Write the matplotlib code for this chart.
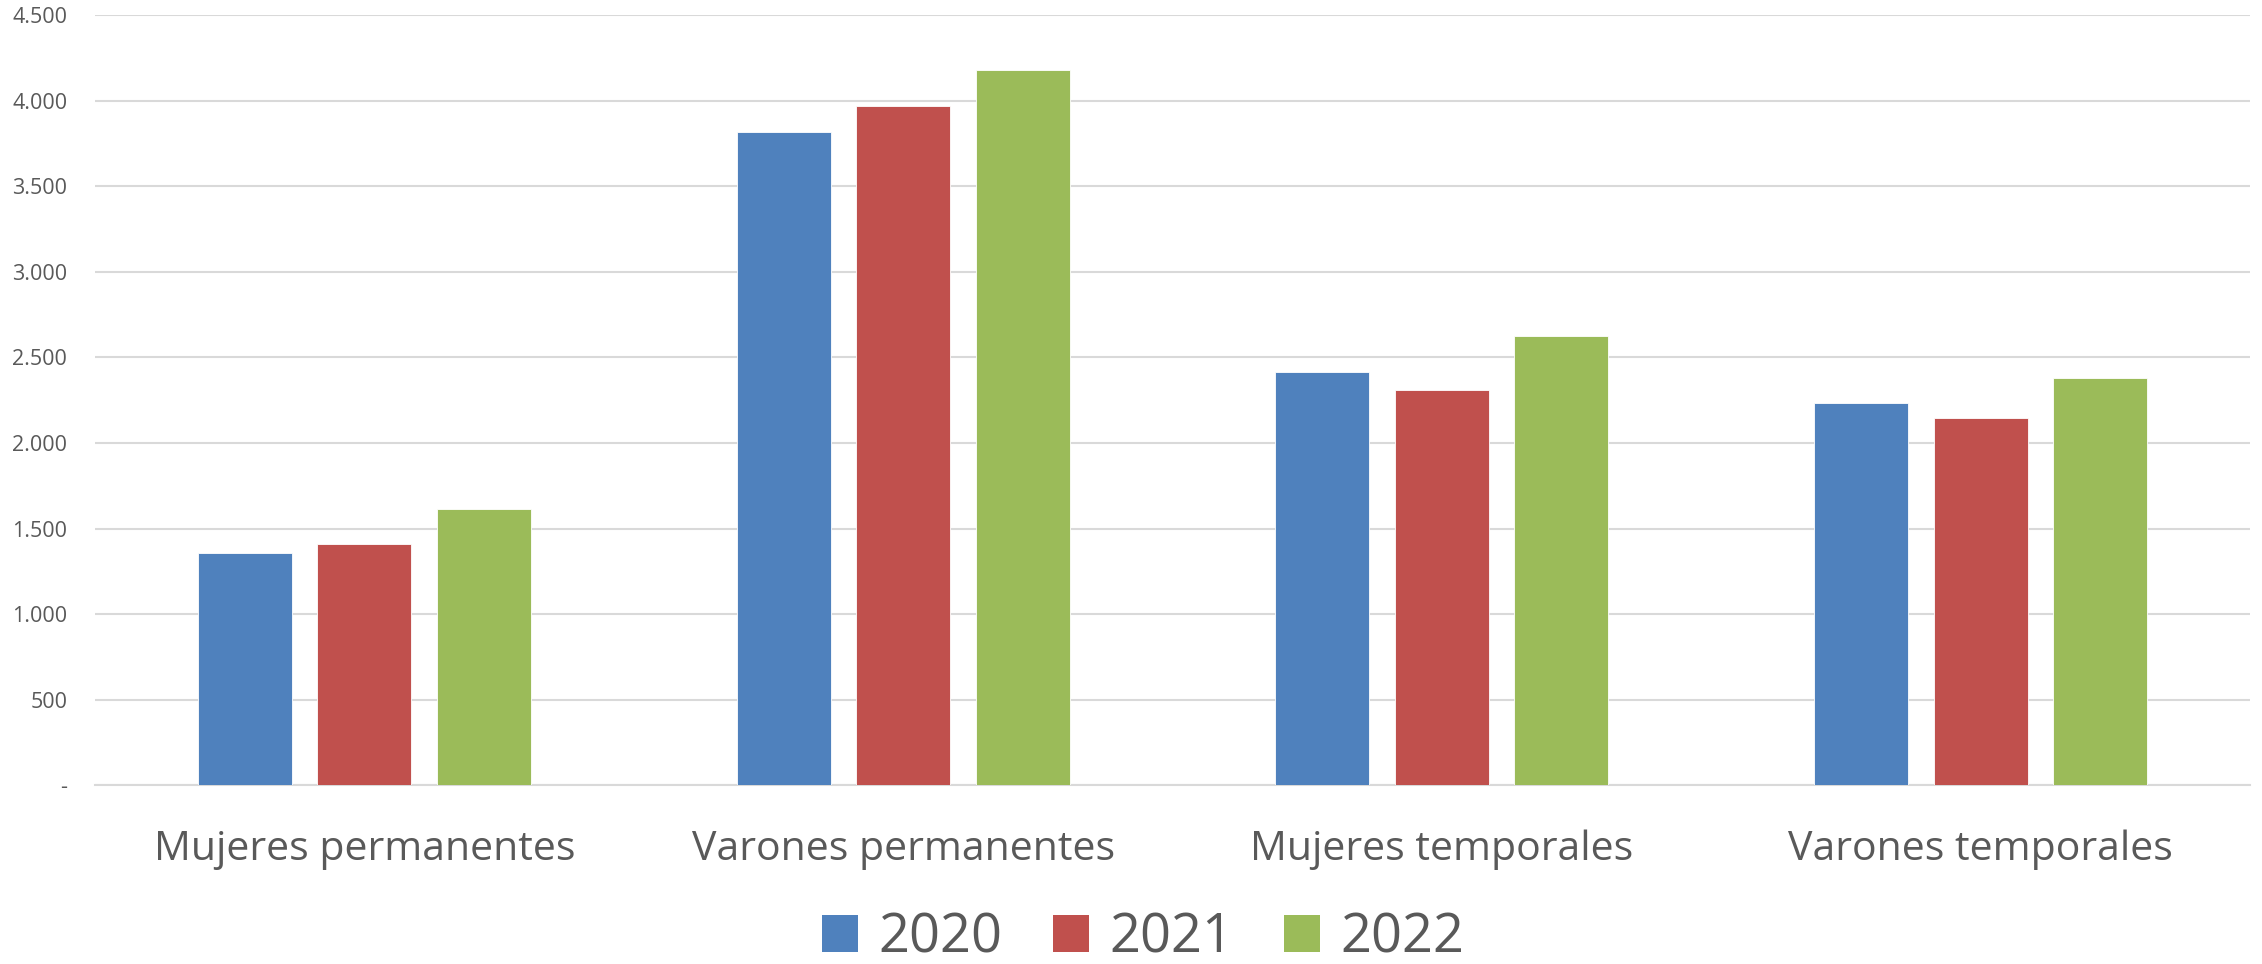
import matplotlib
matplotlib.use("Agg")
import matplotlib.pyplot as plt
import numpy as np
from matplotlib.patches import Patch

categories = ["Mujeres permanentes", "Varones permanentes", "Mujeres temporales", "Varones temporales"]
years = ["2020", "2021", "2022"]
values_2020 = [1358, 3815, 2413, 2232]
values_2021 = [1407, 3971, 2310, 2145]
values_2022 = [1617, 4177, 2624, 2382]
yticks = [0, 500, 1000, 1500, 2000, 2500, 3000, 3500, 4000, 4500]
ytick_labels = ["-", "500", "1.000", "1.500", "2.000", "2.500", "3.000", "3.500", "4.000", "4.500"]

colors = ["#4F81BD", "#C0504D", "#9BBB59"]
text_color = "#595959"
grid_color = "#D9D9D9"

plt.rcParams["font.family"] = ["Open Sans", "DejaVu Sans"]

W, H = 2262, 964
fig = plt.figure(figsize=(W / 100, H / 100), dpi=100)
ax = fig.add_axes([95 / W, 1 - 785.3 / H, (2250 - 95) / W, (785.3 - 15) / H])

x = np.arange(len(categories))
width = 0.1745
step = 0.222
series = [values_2020, values_2021, values_2022]
for i, (vals, c) in enumerate(zip(series, colors)):
    ax.bar(x + (i - 1) * step, vals, width=width, color=c, zorder=3,
           edgecolor="white", linewidth=0.6)

ax.set_xlim(-0.5, len(categories) - 0.5)
ax.set_ylim(0, 4500)
ax.set_yticks(yticks)
ax.set_yticklabels(ytick_labels)
ax.set_xticks(x)
ax.set_xticklabels(categories)
ax.grid(axis="y", color=grid_color, linewidth=1.5, zorder=0)
for s in ["left", "right", "top"]:
    ax.spines[s].set_visible(False)
ax.spines["bottom"].set_color(grid_color)
ax.spines["bottom"].set_linewidth(1.5)
ax.tick_params(axis="y", length=0, pad=20, labelsize=15.5, labelcolor=text_color)
ax.tick_params(axis="x", length=0, pad=32, labelsize=29.5, labelcolor=text_color)

handles = [Patch(facecolor=c, edgecolor="none") for c in colors]
fig.legend(handles, years, loc="center", bbox_to_anchor=(1143 / W, 1 - 938 / H),
           ncol=3, frameon=False, fontsize=39, labelcolor=text_color,
           handlelength=0.667, handleheight=0.667, handletextpad=0.37,
           columnspacing=0.94, borderpad=0, borderaxespad=0)

fig.savefig("out.png", dpi=100, facecolor="white")
